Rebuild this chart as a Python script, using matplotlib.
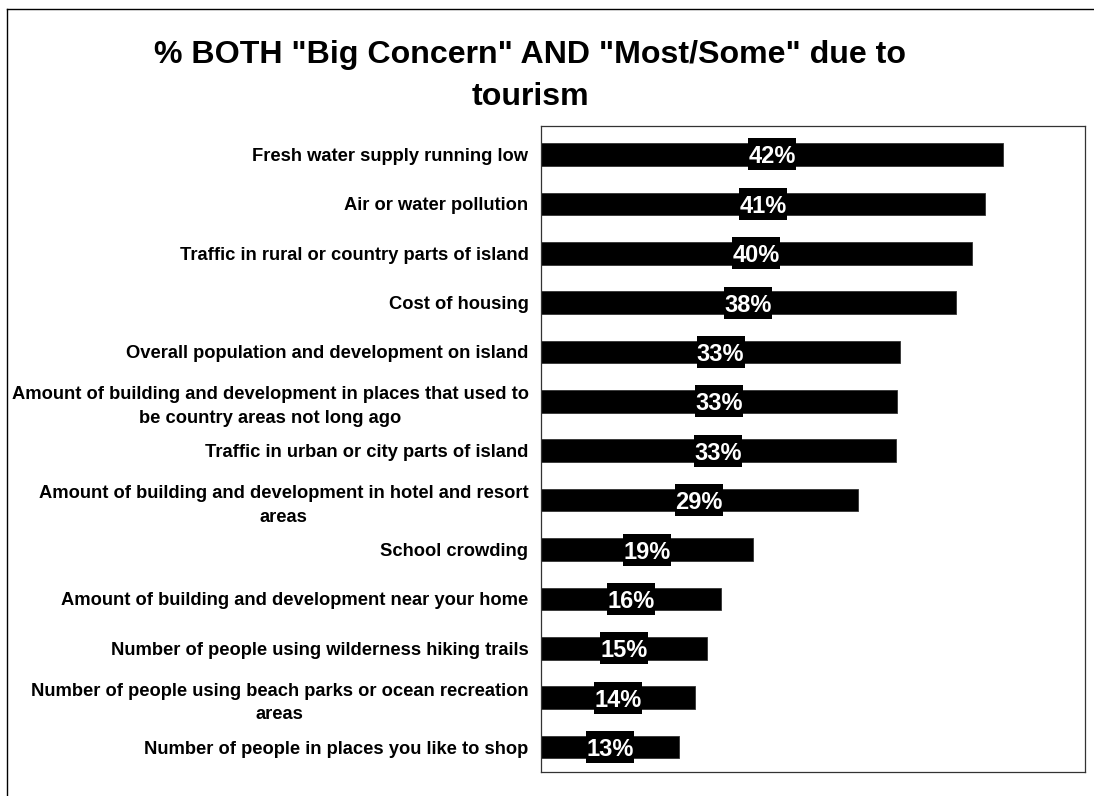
import matplotlib
matplotlib.use("Agg")
import matplotlib.pyplot as plt
from matplotlib.lines import Line2D
from matplotlib.patches import Rectangle

plt.rcParams['font.family'] = ['Liberation Sans', 'DejaVu Sans']

categories = [
    "Fresh water supply running low",
    "Air or water pollution",
    "Traffic in rural or country parts of island",
    "Cost of housing",
    "Overall population and development on island",
    "Amount of building and development in places that used to\nbe country areas not long ago",
    "Traffic in urban or city parts of island",
    "Amount of building and development in hotel and resort\nareas",
    "School crowding",
    "Amount of building and development near your home",
    "Number of people using wilderness hiking trails",
    "Number of people using beach parks or ocean recreation\nareas",
    "Number of people in places you like to shop",
]
values = [42.5, 40.8, 39.6, 38.1, 33.0, 32.7, 32.6, 29.1, 19.5, 16.5, 15.3, 14.2, 12.7]
labels = ["42%", "41%", "40%", "38%", "33%", "33%", "33%", "29%", "19%", "16%", "15%", "14%", "13%"]
title = '% BOTH "Big Concern" AND "Most/Some" due to\ntourism'

W, H = 1094, 796
fig = plt.figure(figsize=(W / 100, H / 100), dpi=100)
ax = fig.add_axes([541 / W, 1 - 772 / H, (1085 - 541) / W, (772 - 126) / H])

n = len(categories)
ypos = list(range(n))
ax.barh(ypos, values, height=0.46, color='black', edgecolor='#333333', linewidth=0.6)
ax.set_xlim(0, 50)
ax.set_ylim(n - 0.494, -0.577)
ax.set_yticks(ypos)
ax.set_yticklabels(categories, fontsize=13.2, fontweight='bold', multialignment='center',
                   linespacing=1.5)
ax.tick_params(axis='y', length=0, pad=9)
ax.set_xticks([])
for s in ax.spines.values():
    s.set_linewidth(0.9)
    s.set_color('#333333')

# label box size in data units (approx 48 px x 32 px)
row_px = 646 / (n - 0.494 + 0.577)
box_w = 48 / (544 / 50)
box_h = 32 / row_px
for y, v, lab in zip(ypos, values, labels):
    ax.add_patch(Rectangle((v / 2 - box_w / 2, y - box_h / 2), box_w, box_h,
                           facecolor='black', edgecolor='none', zorder=3))
    ax.text(v / 2, y, lab, ha='center', va='center_baseline', color='white', fontsize=17,
            fontweight='bold', zorder=4)

fig.text(530 / W, 1 - 76 / H, title, ha='center', va='center', fontsize=23.1,
         fontweight='bold', linespacing=1.5)

fig.add_artist(Line2D([7 / W, 7 / W], [0, 1 - 9 / H], transform=fig.transFigure, color='black', lw=1))
fig.add_artist(Line2D([7 / W, 1], [1 - 9 / H, 1 - 9 / H], transform=fig.transFigure, color='black', lw=1))

fig.savefig("out.png", dpi=100)
